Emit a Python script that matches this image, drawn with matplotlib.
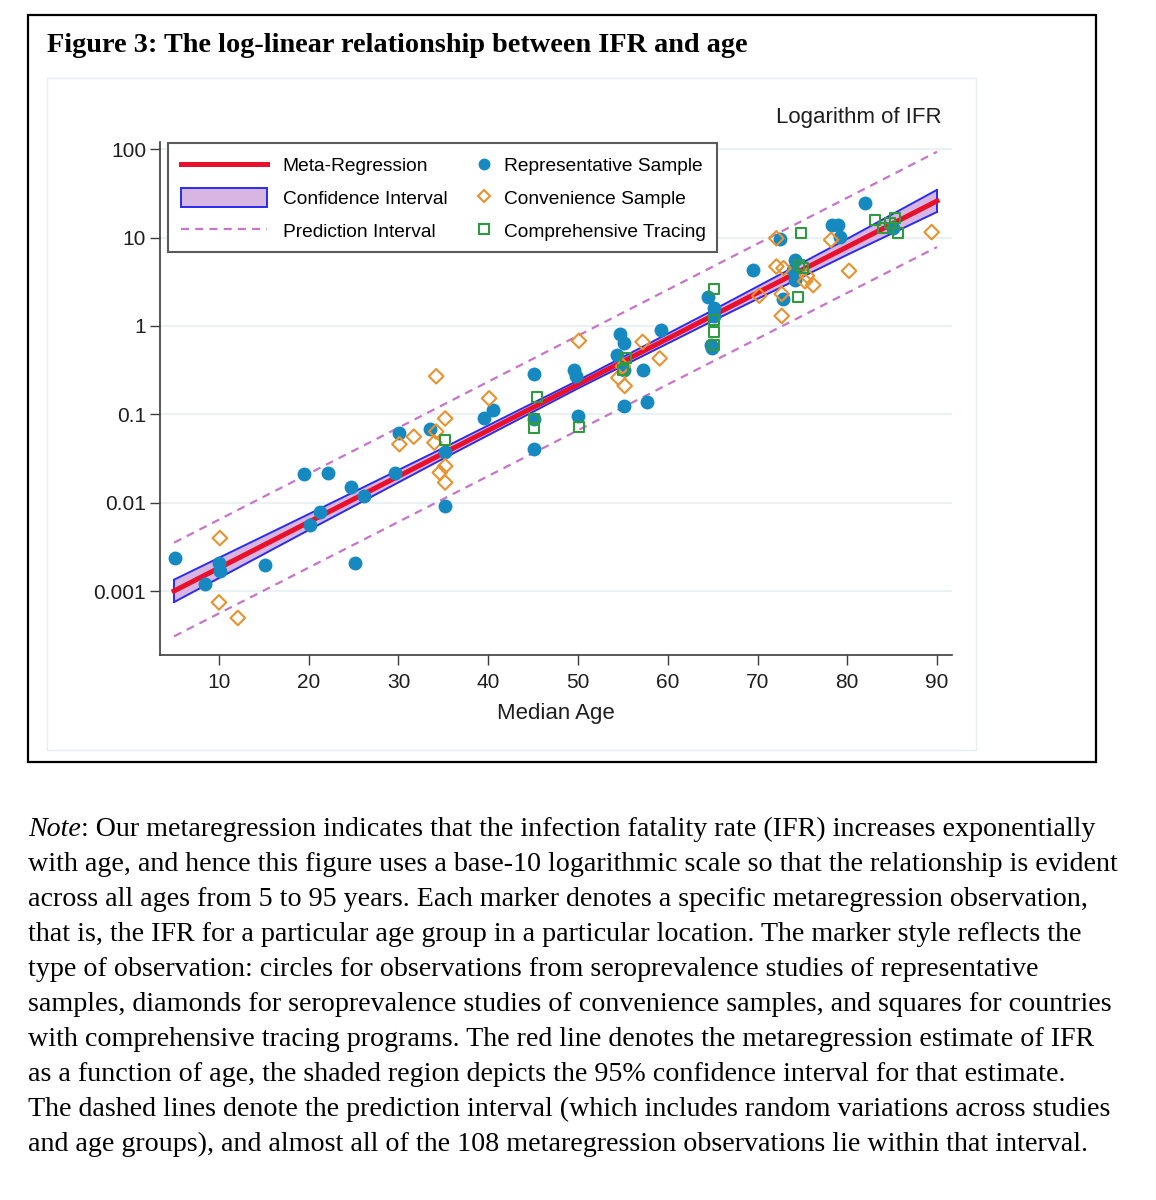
"""Figure 3: log-linear relationship between IFR and age (recreated)
"""
import numpy as np
import matplotlib
matplotlib.use("Agg")
import matplotlib.pyplot as plt
from matplotlib.patches import Rectangle, Patch
from matplotlib.lines import Line2D

# ---- data (IFR in percent) ----
rep_age = [5.1, 8.4, 10.0, 10.1, 15.1, 19.5, 22.1, 20.1, 21.3, 24.7, 26.2, 25.2,
           29.6, 30.1, 33.5, 35.2, 35.2, 39.5, 40.5, 45.1, 45.1, 45.1, 49.6, 49.8,
           50.0, 54.7, 55.1, 54.4, 55.1, 55.1, 57.2, 57.7, 59.3, 64.5, 65.2, 65.1,
           64.8, 64.9, 69.5, 72.5, 72.8, 74.2, 74.2, 74.0, 78.3, 79.0, 79.2, 82.0, 85.1]
rep_ifr = [0.0024, 0.0012, 0.0021, 0.0017, 0.0020, 0.021, 0.022, 0.0056, 0.0079, 0.015,
           0.012, 0.0021, 0.022, 0.061, 0.069, 0.038, 0.0093, 0.090, 0.112, 0.284,
           0.088, 0.041, 0.32, 0.27, 0.096, 0.81, 0.64, 0.47, 0.32, 0.124, 0.32, 0.139,
           0.90, 2.1, 1.6, 1.3, 0.61, 0.57, 4.3, 9.6, 2.0, 5.6, 3.3, 4.3, 13.9, 13.9,
           10.2, 24.5, 12.7]

conv_age = [10.1, 10.0, 12.1, 34.2, 30.1, 31.7, 35.2, 34.2, 34.0, 35.2, 34.6, 35.2,
            40.1, 50.1, 57.2, 59.1, 54.5, 55.2, 55.0, 72.1, 72.1, 72.9, 70.2, 72.7,
            72.7, 75.5, 76.2, 75.3, 78.2, 80.2, 89.4]
conv_ifr = [0.0040, 0.00075, 0.0005, 0.27, 0.046, 0.056, 0.090, 0.064, 0.048, 0.026,
            0.022, 0.017, 0.152, 0.68, 0.66, 0.43, 0.26, 0.21, 0.35, 9.8, 4.7, 4.5,
            2.2, 2.3, 1.3, 3.7, 2.9, 3.2, 9.4, 4.2, 11.5]

comp_age = [35.2, 45.4, 45.1, 45.1, 50.1, 55.3, 55.0, 65.1, 65.1, 65.1, 65.1, 74.8,
            74.5, 75.1, 74.6, 83.1, 84.0, 85.3, 85.7, 84.8]
comp_ifr = [0.052, 0.158, 0.088, 0.070, 0.073, 0.43, 0.32, 2.6, 1.17, 0.86, 0.61, 11.2,
            2.1, 4.5, 4.9, 15.8, 12.7, 16.5, 11.2, 14.5]

fit_age = [5, 90]
fit_ifr = [0.00101, 25.9]

ci_age = [5, 20, 35, 50, 65, 80, 90]
ci_hi = [0.001355, 0.00746, 0.0418, 0.242, 1.503, 9.66, 34.6]
ci_lo = [0.000755, 0.00493, 0.0317, 0.197, 1.14, 6.38, 19.45]

pi_age = [5, 90]
pi_hi = [0.00355, 93.3]
pi_lo = [0.00031, 7.8]

x_ticks = [10, 20, 30, 40, 50, 60, 70, 80, 90]
y_ticks = [0.001, 0.01, 0.1, 1, 10, 100]
y_tick_labels = ["0.001", "0.01", "0.1", "1", "10", "100"]

title = "Figure 3: The log-linear relationship between IFR and age"
note_lines = [
    ": Our metaregression indicates that the infection fatality rate (IFR) increases exponentially",
    "with age, and hence this figure uses a base-10 logarithmic scale so that the relationship is evident",
    "across all ages from 5 to 95 years. Each marker denotes a specific metaregression observation,",
    "that is, the IFR for a particular age group in a particular location. The marker style reflects the",
    "type of observation: circles for observations from seroprevalence studies of representative",
    "samples, diamonds for seroprevalence studies of convenience samples, and squares for countries",
    "with comprehensive tracing programs. The red line denotes the metaregression estimate of IFR",
    "as a function of age, the shaded region depicts the 95% confidence interval for that estimate.",
    "The dashed lines denote the prediction interval (which includes random variations across studies",
    "and age groups), and almost all of the 108 metaregression observations lie within that interval.",
]

# ---- colours ----
c_rep = "#168ac0"
c_conv = "#e8922f"
c_comp = "#2f9a3f"
c_fit = "#e8102a"
c_ci_edge = "#2b2bf0"
c_ci_fill = "#d8b6e3"
c_pi = "#c675c9"

W, H = 1156, 1200
fig = plt.figure(figsize=(W / 100, H / 100), dpi=100)
plt.rcParams['font.family'] = ['Liberation Sans', 'DejaVu Sans']


def fx(px):
    return px / W


def fy(py):
    return 1 - py / H


# frames
fig.add_artist(Rectangle((fx(28), fy(762)), fx(1096) - fx(28), fy(15) - fy(762),
                         transform=fig.transFigure, fill=False, ec="black", lw=1.6))
fig.add_artist(Rectangle((fx(47), fy(750)), fx(976) - fx(47), fy(78) - fy(750),
                         transform=fig.transFigure, fill=False, ec="#e6eef0", lw=1))

fig.text(fx(47), fy(52), title, family="Liberation Serif", weight="bold",
         size=20.3, va="baseline", ha="left")

ax = fig.add_axes([fx(160), fy(655), fx(952) - fx(160), fy(142) - fy(655)])
ax.set_yscale("log")
ax.set_xlim(3.43, 91.67)
ax.set_ylim(10 ** -3.72, 10 ** 2.08)

ax.fill_between(ci_age, ci_lo, ci_hi, color=c_ci_fill, lw=0, zorder=2)
ax.plot(ci_age, ci_hi, color=c_ci_edge, lw=1.4, zorder=3)
ax.plot(ci_age, ci_lo, color=c_ci_edge, lw=1.4, zorder=3)
ax.plot([ci_age[0], ci_age[0]], [ci_lo[0], ci_hi[0]], color=c_ci_edge, lw=1.4, zorder=3)
ax.plot([ci_age[-1], ci_age[-1]], [ci_lo[-1], ci_hi[-1]], color=c_ci_edge, lw=1.4, zorder=3)
ax.plot(fit_age, fit_ifr, color=c_fit, lw=3.6, zorder=4)
ax.plot(pi_age, pi_hi, color=c_pi, lw=1.6, dashes=(3.6, 2.8), zorder=3)
ax.plot(pi_age, pi_lo, color=c_pi, lw=1.6, dashes=(3.6, 2.8), zorder=3)

ax.scatter(rep_age, rep_ifr, s=100, color=c_rep, lw=0, zorder=5)
ax.scatter(conv_age, conv_ifr, s=55, marker="D", facecolors="none",
           edgecolors=c_conv, lw=1.5, zorder=6)
ax.scatter(comp_age, comp_ifr, s=52, marker="s", facecolors="none",
           edgecolors=c_comp, lw=1.5, zorder=7)

ax.set_xticks(x_ticks)
ax.set_yticks(y_ticks)
ax.set_yticklabels(y_tick_labels)
ax.minorticks_off()
ax.yaxis.grid(True, color="#e6eff2", lw=1.2)
ax.set_axisbelow(True)
for side in ["top", "right"]:
    ax.spines[side].set_visible(False)
for side in ["left", "bottom"]:
    ax.spines[side].set_color("#3c3c3c")
    ax.spines[side].set_linewidth(1.2)
ax.tick_params(axis="both", direction="out", length=7, width=1, color="#3c3c3c",
               labelsize=15, labelcolor="#1e1e1e")
ax.tick_params(axis="y", pad=3)
ax.tick_params(axis="x", pad=6)
ax.set_xlabel("Median Age", fontsize=16, color="#1e1e1e", labelpad=8)

fig.text(fx(942), fy(118), "Logarithm of IFR", ha="right", va="center",
         fontsize=16, color="#1e1e1e")

# legend box
fig.add_artist(Rectangle((fx(168), fy(252)), fx(717) - fx(168), fy(143) - fy(252),
                         transform=fig.transFigure, fc="white", ec="#5a5a5a",
                         lw=1.5, zorder=2))
h_fit = Line2D([], [], color=c_fit, lw=3.6)
h_ci = Patch(facecolor=c_ci_fill, edgecolor=c_ci_edge, lw=1.4)
h_pi = Line2D([], [], color=c_pi, lw=1.6, dashes=(3.6, 2.8))
leg_kw = dict(loc="upper left", bbox_transform=fig.transFigure, borderaxespad=0,
              frameon=False, borderpad=0.66, fontsize=13.8, handleheight=1.1,
              labelspacing=0.68)
fig.legend([h_fit, h_ci, h_pi],
           ["Meta-Regression", "Confidence Interval", "Prediction Interval"],
           bbox_to_anchor=(fx(168), fy(143)), handlelength=4.5,
           handletextpad=0.83, **leg_kw)
h_rep = Line2D([], [], ls="none", marker="o", ms=7.5, mfc=c_rep, mec=c_rep)
h_conv = Line2D([], [], ls="none", marker="D", ms=6.5, mfc="none", mec=c_conv, mew=1.5)
h_comp = Line2D([], [], ls="none", marker="s", ms=6.5, mfc="none", mec=c_comp, mew=1.5)
fig.legend([h_rep, h_conv, h_comp],
           ["Representative Sample", "Convenience Sample", "Comprehensive Tracing"],
           bbox_to_anchor=(fx(462), fy(143)), handlelength=1.0,
           handletextpad=0.53, **leg_kw)

# note under the figure
note_size = 20.2
note_top = 842
t = fig.text(fx(28), fy(note_top), "Note", family="Liberation Serif", style="italic",
             size=note_size, va="bottom", ha="left")
ax.annotate(note_lines[0], xy=(1, 0), xycoords=t, va="bottom", ha="left",
            family="Liberation Serif", size=note_size, annotation_clip=False)
for i, line in enumerate(note_lines[1:], start=1):
    fig.text(fx(28), fy(note_top + 35 * i), line, family="Liberation Serif",
             size=note_size, va="bottom", ha="left")

fig.savefig("out.png", dpi=100)
